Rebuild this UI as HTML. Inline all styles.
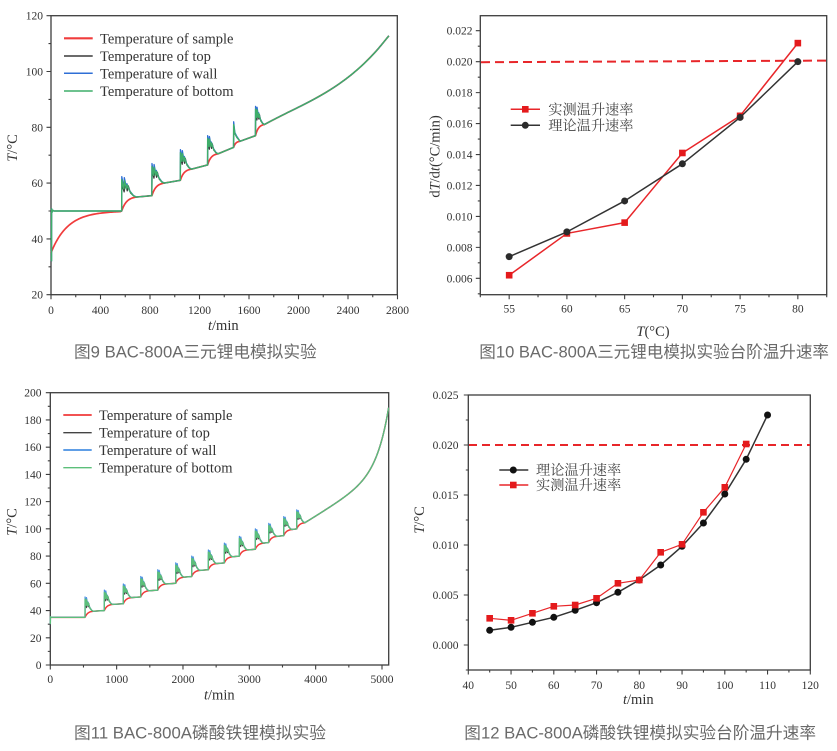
<!DOCTYPE html>
<html><head><meta charset="utf-8">
<style>
html,body{margin:0;padding:0;background:#fff;}
svg{display:block;}
.tk{font-family:"Liberation Serif",serif;font-size:11.5px;fill:#333;}
.lg{font-family:"Liberation Serif",serif;font-size:14.5px;fill:#333;}
.lc{font-family:"Liberation Serif","Noto Serif CJK SC",serif;font-size:14.2px;fill:#444;}
.ax{font-family:"Liberation Serif",serif;font-size:14.5px;fill:#333;}
.cap{font-family:"Liberation Sans","Noto Sans CJK SC",sans-serif;font-size:16.5px;fill:#6a6a6a;}
</style></head><body>
<svg id="s" width="837" height="751" viewBox="0 0 837 751" xmlns="http://www.w3.org/2000/svg">
<rect width="837" height="751" fill="#fff"/>
<g id="g"></g>

<!-- Chart 1 tick labels -->
<g class="tk" text-anchor="end">
<text x="43" y="298.7">20</text><text x="43" y="242.9">40</text><text x="43" y="187.1">60</text>
<text x="43" y="131.3">80</text><text x="43" y="75.5">100</text><text x="43" y="19.7">120</text>
</g>
<g class="tk" text-anchor="middle">
<text x="51" y="314">0</text><text x="100.5" y="314">400</text><text x="150" y="314">800</text>
<text x="199.5" y="314">1200</text><text x="249" y="314">1600</text><text x="298.5" y="314">2000</text>
<text x="348" y="314">2400</text><text x="397.5" y="314">2800</text>
</g>
<text class="ax" x="223.3" y="330" text-anchor="middle"><tspan font-style="italic">t</tspan>/min</text>
<text class="ax" transform="translate(16.8,148) rotate(-90)" text-anchor="middle"><tspan font-style="italic">T</tspan>/°C</text>
<g class="lg">
<text x="100" y="43.3">Temperature of sample</text>
<text x="100" y="61">Temperature of top</text>
<text x="100" y="78.3">Temperature of wall</text>
<text x="100" y="96">Temperature of bottom</text>
</g>

<!-- Chart 2 tick labels -->
<g class="tk" text-anchor="end">
<text x="472.5" y="282.3">0.006</text><text x="472.5" y="251.4">0.008</text><text x="472.5" y="220.4">0.010</text>
<text x="472.5" y="189.5">0.012</text><text x="472.5" y="158.5">0.014</text><text x="472.5" y="127.6">0.016</text>
<text x="472.5" y="96.6">0.018</text><text x="472.5" y="65.7">0.020</text><text x="472.5" y="34.7">0.022</text>
</g>
<g class="tk" text-anchor="middle">
<text x="509.2" y="312.5">55</text><text x="566.9" y="312.5">60</text><text x="624.7" y="312.5">65</text>
<text x="682.4" y="312.5">70</text><text x="740.1" y="312.5">75</text><text x="797.9" y="312.5">80</text>
</g>
<text class="ax" x="653" y="336" text-anchor="middle"><tspan font-style="italic">T</tspan>(°C)</text>
<text class="ax" transform="translate(439.5,156.5) rotate(-90)" text-anchor="middle">d<tspan font-style="italic">T</tspan>/d<tspan font-style="italic">t</tspan>(°C/min)</text>
<text class="lc" x="548.3" y="114.3">实测温升速率</text>
<text class="lc" x="548.3" y="130.3">理论温升速率</text>

<!-- Chart 3 tick labels -->
<g class="tk" text-anchor="end">
<text x="41.5" y="669">0</text><text x="41.5" y="641.8">20</text><text x="41.5" y="614.5">40</text>
<text x="41.5" y="587.3">60</text><text x="41.5" y="560.1">80</text><text x="41.5" y="532.9">100</text>
<text x="41.5" y="505.6">120</text><text x="41.5" y="478.4">140</text><text x="41.5" y="451.2">160</text>
<text x="41.5" y="423.9">180</text><text x="41.5" y="396.7">200</text>
</g>
<g class="tk" text-anchor="middle">
<text x="50.3" y="683">0</text><text x="116.6" y="683">1000</text><text x="183" y="683">2000</text>
<text x="249.3" y="683">3000</text><text x="315.7" y="683">4000</text><text x="382" y="683">5000</text>
</g>
<text class="ax" x="219.3" y="699.3" text-anchor="middle"><tspan font-style="italic">t</tspan>/min</text>
<text class="ax" transform="translate(16.5,522) rotate(-90)" text-anchor="middle"><tspan font-style="italic">T</tspan>/°C</text>
<g class="lg">
<text x="99" y="420">Temperature of sample</text>
<text x="99" y="437.7">Temperature of top</text>
<text x="99" y="455">Temperature of wall</text>
<text x="99" y="472.7">Temperature of bottom</text>
</g>

<!-- Chart 4 tick labels -->
<g class="tk" text-anchor="end">
<text x="458.5" y="649">0.000</text><text x="458.5" y="599">0.005</text><text x="458.5" y="549">0.010</text>
<text x="458.5" y="499">0.015</text><text x="458.5" y="449">0.020</text><text x="458.5" y="399">0.025</text>
</g>
<g class="tk" text-anchor="middle">
<text x="468.3" y="689">40</text><text x="511.1" y="689">50</text><text x="553.8" y="689">60</text>
<text x="596.6" y="689">70</text><text x="639.3" y="689">80</text><text x="682.1" y="689">90</text>
<text x="724.8" y="689">100</text><text x="767.6" y="689">110</text><text x="810.3" y="689">120</text>
</g>
<text class="ax" x="638.3" y="704" text-anchor="middle"><tspan font-style="italic">t</tspan>/min</text>
<text class="ax" transform="translate(424,520) rotate(-90)" text-anchor="middle"><tspan font-style="italic">T</tspan>/°C</text>
<text class="lc" x="536" y="475">理论温升速率</text>
<text class="lc" x="536" y="490">实测温升速率</text>

<!-- Captions -->
<text class="cap" x="74" y="357.5" textLength="242.7" lengthAdjust="spacingAndGlyphs">图9 BAC-800A三元锂电模拟实验</text>
<text class="cap" x="479.3" y="357.5" textLength="349.7" lengthAdjust="spacingAndGlyphs">图10 BAC-800A三元锂电模拟实验台阶温升速率</text>
<text class="cap" x="74" y="738.5" textLength="252" lengthAdjust="spacingAndGlyphs">图11 BAC-800A磷酸铁锂模拟实验</text>
<text class="cap" x="464.3" y="738.5" textLength="351.7" lengthAdjust="spacingAndGlyphs">图12 BAC-800A磷酸铁锂模拟实验台阶温升速率</text>
</svg>
<script>
(function(){
var NS="http://www.w3.org/2000/svg",G=document.getElementById('g');
function el(t,a){var e=document.createElementNS(NS,t);for(var k in a)e.setAttribute(k,a[k]);G.appendChild(e);return e;}
function f(n){return (+n).toFixed(2);}
function P(pts,fx,fy){var d='';for(var i=0;i<pts.length;i++)d+=(i?'L':'M')+f(fx(pts[i][0]))+','+f(fy(pts[i][1]));return d;}
function CR(pts,fx,fy,cont){var q=pts.map(function(p){return [fx(p[0]),fy(p[1])];});var d=(cont?'L':'M')+f(q[0][0])+','+f(q[0][1]);
for(var i=0;i<q.length-1;i++){var p0=q[i>0?i-1:0],p1=q[i],p2=q[i+1],p3=q[i+2<q.length?i+2:i+1];
d+='C'+f(p1[0]+(p2[0]-p0[0])/6)+','+f(p1[1]+(p2[1]-p0[1])/6)+' '+f(p2[0]-(p3[0]-p1[0])/6)+','+f(p2[1]-(p3[1]-p1[1])/6)+' '+f(p2[0])+','+f(p2[1]);}
return d;}
function frame(x0,x1,y0,y1,xt,yt){
el('rect',{x:x0,y:y0,width:x1-x0,height:y1-y0,fill:'none',stroke:'#3d3d3d','stroke-width':1.3});
var d='';xt.forEach(function(t){d+='M'+f(t[0])+','+y1+'v'+(t[1]?4.5:2.5);});
yt.forEach(function(t){d+='M'+x0+','+f(t[0])+'h'+(t[1]?-4.5:-2.5);});
el('path',{d:d,stroke:'#3d3d3d','stroke-width':1.1,fill:'none'});}
function line(d,c,w,extra){var a={d:d,stroke:c,'stroke-width':w,fill:'none','stroke-linejoin':'round'};if(extra)for(var k in extra)a[k]=extra[k];return el('path',a);}
function sq(x,y,c){el('rect',{x:f(x-3.3),y:f(y-3.3),width:6.6,height:6.6,fill:c||'#e41a1c'});}
function ci(x,y,c){el('circle',{cx:f(x),cy:f(y),r:3.5,fill:c||'#2b2b2b'});}
function spike(kind,s){var ts=s[0],Tb=s[1],Ta=s[2],te=s[3],Pk=s[4],single=s[5],D=te-ts,h=Pk-Ta;
 if(single){
  if(kind=='b')return [[ts,Tb],[ts+1,Pk],[ts+.2*D,Pk-.55*h],[ts+.5*D,Ta+.25*h],[te,Ta]];
  if(kind=='g')return [[ts,Tb],[ts+1,Pk-.15*h],[ts+.2*D,Pk-.6*h],[ts+.5*D,Ta+.2*h],[te,Ta]];
  return [[ts,Tb],[ts+2,Pk-.3*h],[ts+.2*D,Pk-.6*h],[ts+.5*D,Ta+.2*h],[te,Ta]];}
 if(kind=='b')return [[ts,Tb],[ts+1,Pk],[ts+.15*D,Pk-.55*h],[ts+.18*D,Pk-.05*h],[ts+.32*D,Pk-.5*h],[ts+.36*D,Pk-.35*h],[ts+.55*D,Ta+.3*h],[ts+.8*D,Ta+.08*h],[te,Ta]];
 if(kind=='g')return [[ts,Tb],[ts+1,Pk-.15*h],[ts+.15*D,Pk-.6*h],[ts+.19*D,Pk-.2*h],[ts+.33*D,Pk-.6*h],[ts+.38*D,Pk-.4*h],[ts+.55*D,Ta+.28*h],[ts+.8*D,Ta+.06*h],[te,Ta]];
 return [[ts,Tb],[ts+2,Pk-.4*h],[ts+.17*D,Pk-.75*h],[ts+.25*D,Pk-.35*h],[ts+.38*D,Pk-.7*h],[ts+.45*D,Pk-.45*h],[ts+.6*D,Ta+.2*h],[ts+.8*D,Ta+.06*h],[te,Ta]];}
function rise(s){var a=[];for(var j=0;j<=10;j++){var u=j/10;a.push([s[0]+u*(s[3]-s[0]),s[1]+(s[2]-s[1])*(1-Math.exp(-3*u))/(1-Math.exp(-3))]);}return a;}
function series(kind,start,steps){var a=start.slice();steps.forEach(function(s){a=a.concat(kind=='r'?rise(s):spike(kind,s));});return a;}
var i,xt,yt;

/* Chart 1 */
var X1=function(t){return 51+t*.12375},Y1=function(T){return 294.7-(T-20)*2.79};
xt=[];yt=[];
for(i=0;i<=2800;i+=200)xt.push([X1(i),i%400==0]);
for(i=20;i<=120;i+=10)yt.push([Y1(i),i%20==0]);
frame(51,397.3,15.7,294.7,xt,yt);
var st1=[[571,50,55,690,62.3],[815,55.5,60,915,67],[1045,61,65,1135,72],[1265,66.5,70.5,1350,77],[1475,72.8,75,1528,82,1],[1652,77,81,1724,87.5]];
var cv1=[[1724,81],[1824.6,83.34],[1925.2,85.56],[2025.8,87.77],[2126.4,90.1],[2227,92.65],[2327.6,95.54],[2428.2,98.89],[2528.8,102.8],[2629.4,107.4],[2730,112.8]];
var r0=[];for(i=0;i<=560;i+=10)r0.push([i,50-15*Math.exp(-i/135)]);
var o0=[[4,32],[4.5,50.8],[9,49.6],[14,50.3],[22,50]];
line(P(series('r',r0,st1),X1,Y1)+CR(cv1,X1,Y1,1),'#f03c3c',1.7);
line(P(series('k',o0,st1),X1,Y1)+CR(cv1,X1,Y1,1),'#3a3a3a',1.2);
line(P(series('b',o0,st1),X1,Y1)+CR(cv1,X1,Y1,1),'#2f6fd6',1.3);
line(P(series('g',o0,st1),X1,Y1)+CR(cv1,X1,Y1,1),'#3fae6a',1.4);
line('M64,38.3H92.7','#f03c3c',2.2);
line('M64,56H92.7','#3a3a3a',1.4);
line('M64,73.3H92.7','#2f6fd6',1.5);
line('M64,91H92.7','#3fae6a',1.6);

/* Chart 2 */
var X2=function(T){return 480.3+(T-52.5)*11.547},Y2=function(v){return 293.8-(v-.005)*15475};
xt=[];yt=[];
for(i=0;i<=12;i++)xt.push([X2(52.5+2.5*i),i%2==1]);
for(i=5;i<=22;i++)yt.push([Y2(i/1000),i%2==0]);
frame(480.3,826.7,15.7,294.7,xt,yt);
line('M481,62.2L826,60.6','#e8262a',2,{'stroke-dasharray':'9,5'});
var T2=[55,60,65,70,75,80],red2=[.0062,.0089,.0096,.0141,.0165,.0212],blk2=[.0074,.0090,.0110,.0134,.0164,.0200];
var pr=T2.map(function(t,j){return [t,red2[j]];}),pb=T2.map(function(t,j){return [t,blk2[j]];});
line(P(pr,X2,Y2),'#e8262a',1.5);
pr.forEach(function(p){sq(X2(p[0]),Y2(p[1]));});
line(P(pb,X2,Y2),'#333',1.5);
pb.forEach(function(p){ci(X2(p[0]),Y2(p[1]));});
line('M510.7,109.3H540','#e8262a',1.5);sq(525.3,109.3);
line('M510.7,125.3H540','#333',1.5);ci(525.3,125.3);

/* Chart 3 */
var X3=function(t){return 50.3+t*.06634},Y3=function(T){return 665-T*1.3615};
xt=[];yt=[];
for(i=0;i<=5000;i+=500)xt.push([X3(i),i%1000==0]);
for(i=0;i<=200;i+=10)yt.push([Y3(i),i%20==0]);
frame(50.3,388.7,392.7,665,xt,yt);
var ts3=[523,814,1100,1363,1619,1890,2131,2382,2623,2849,3090,3292,3518,3714],pk3=[50,55,59.5,65,70,75,80,84.5,89.5,94.5,100,104,109,114],st3=[];
for(i=0;i<14;i++){var tb=35+5*i;st3.push([ts3[i],tb,tb+4.5,ts3[i]+125,pk3[i]]);}
var cv3=[];
for(var t=3839;t<5100;t+=15){cv3.push([t,104.5+0.03*(t-3839)+46.7*Math.exp((t-5100)/177)]);}
cv3.push([5100,189]);
var cvp3=P(cv3,X3,Y3).replace(/^M/,'L');
line(P(series('r',[[0,35],[500,35]],st3),X3,Y3)+cvp3,'#f03a3a',1.5);
line(P(series('k',[[0,35],[500,35]],st3),X3,Y3)+cvp3,'#444',1.1);
line(P(series('b',[[1,30],[3,35.5],[10,35],[500,35]],st3),X3,Y3)+cvp3,'#4a90e2',1.2);
line(P(series('g',[[1,30],[3,35.5],[10,35],[500,35]],st3),X3,Y3)+cvp3,'#5cbf7a',1.3);
line('M63.3,415H91.7','#f03a3a',1.8);
line('M63.3,432.7H91.7','#444',1.4);
line('M63.3,450H91.7','#4a90e2',1.8);
line('M63.3,467.7H91.7','#5cbf7a',1.3);

/* Chart 4 */
var X4=function(t){return 468.3+(t-40)*4.275},Y4=function(v){return 645-v*10000};
xt=[];yt=[];
for(i=40;i<=120;i+=5)xt.push([X4(i),i%10==0]);
for(i=-1;i<=10;i++)yt.push([Y4(i*.0025),i%2==0]);
frame(468.3,810.3,395,670,xt,yt);
line('M469,445H810','#e8262a',2,{'stroke-dasharray':'8,5'});
var t4=[45,50,55,60,65,70,75,80,85,90,95,100,105,110];
var b4=[.00147,.00177,.00227,.00277,.00347,.00423,.00527,.0065,.008,.00987,.0122,.0151,.01857,.023];
var r4=[.00267,.00247,.00317,.00387,.004,.00467,.00617,.0065,.00927,.01007,.01327,.01577,.0201];
var qb=b4.map(function(v,j){return [t4[j],v];}),qr=r4.map(function(v,j){return [t4[j],v];});
line(P(qb,X4,Y4),'#333',1.5);
qb.forEach(function(p){ci(X4(p[0]),Y4(p[1]),'#111');});
line(P(qr,X4,Y4),'#e8262a',1.2);
qr.forEach(function(p){sq(X4(p[0]),Y4(p[1]));});
line('M499.3,470H528.3','#333',1.5);ci(513.3,470,'#111');
line('M499.3,485H528.3','#e8262a',1.5);sq(513.3,485);
})();
</script>
</body></html>
